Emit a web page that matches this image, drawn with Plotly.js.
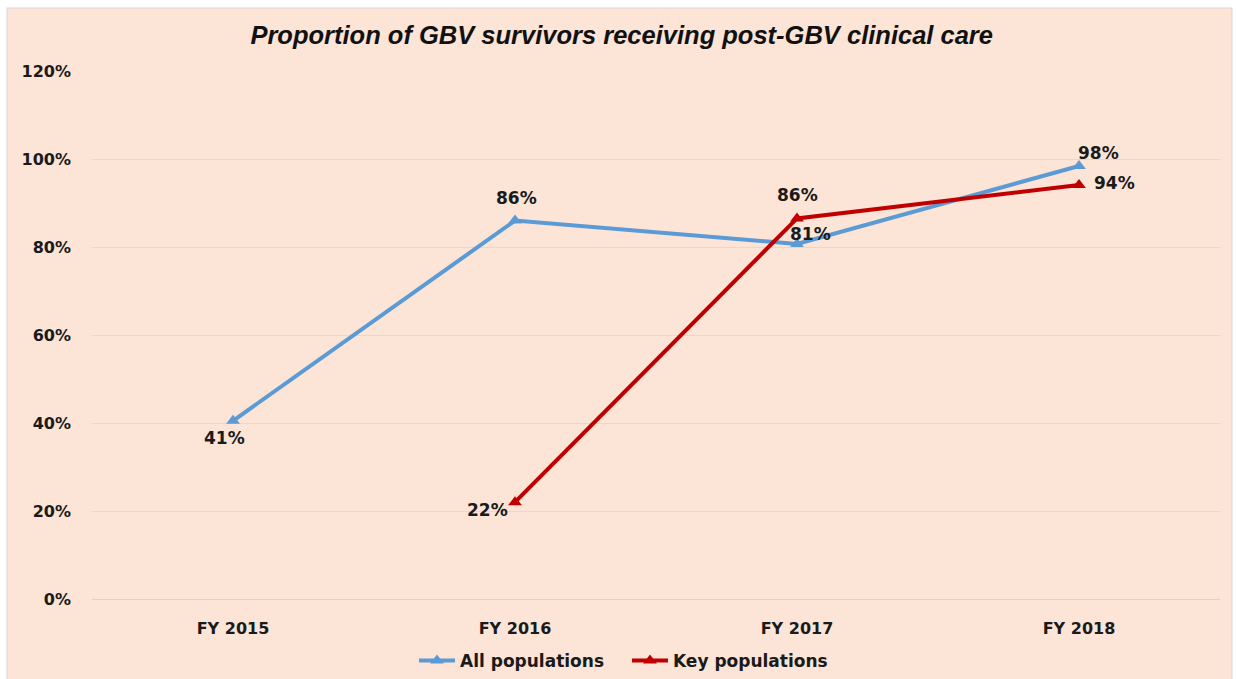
<!DOCTYPE html>
<html>
<head>
<meta charset="utf-8">
<script src="https://cdn.plot.ly/plotly-3.0.1.min.js"></script>
<style>html,body{margin:0;padding:0;background:#fff;}#chart{width:1236px;height:679px;}</style>
</head>
<body>
<div id="chart"></div>
<script>
var categories = ["FY 2015", "FY 2016", "FY 2017", "FY 2018"];
var allPopX = ["FY 2015", "FY 2016", "FY 2017", "FY 2018"];
var allPopValues = [0.405, 0.86, 0.807, 0.984];
var allPopLabels = ["41%", "86%", "81%", "98%"];
var keyPopX = ["FY 2016", "FY 2017", "FY 2018"];
var keyPopValues = [0.22, 0.865, 0.941];
var keyPopLabels = ["22%", "86%", "94%"];
var yTickVals = [0, 0.2, 0.4, 0.6, 0.8, 1.0, 1.2];
var yTickText = ["0%", "20%", "40%", "60%", "80%", "100%", "120%"];

var blue = "#5B9BD5", red = "#C00000";
var fontFam = "DejaVu Sans, Verdana, sans-serif";

var traces = [
  {x: allPopX, y: allPopValues, name: "All populations", type: "scatter", mode: "lines+markers",
   line: {color: blue, width: 4}, marker: {symbol: "triangle-up", size: 12, color: blue}},
  {x: keyPopX, y: keyPopValues, name: "Key populations", type: "scatter", mode: "lines+markers",
   line: {color: red, width: 4}, marker: {symbol: "triangle-up", size: 12, color: red}}
];

var allOffsets = [[-9, -17], [1, 23], [13, 10], [19, 13]];
var keyOffsets = [[-28, -8], [0, 23], [35, 2]];
var annotations = [];
allPopX.forEach(function (c, i) {
  annotations.push({x: c, y: allPopValues[i], xref: "x", yref: "y", text: allPopLabels[i], showarrow: false,
    xshift: allOffsets[i][0], yshift: allOffsets[i][1], font: {family: fontFam, size: 17, color: "#1a1a1a", weight: "bold"}});
});
keyPopX.forEach(function (c, i) {
  annotations.push({x: c, y: keyPopValues[i], xref: "x", yref: "y", text: keyPopLabels[i], showarrow: false,
    xshift: keyOffsets[i][0], yshift: keyOffsets[i][1], font: {family: fontFam, size: 17, color: "#1a1a1a", weight: "bold"}});
});

var layout = {
  width: 1236, height: 679,
  margin: {l: 92, r: 16, t: 71, b: 80, pad: 0, autoexpand: false},
  paper_bgcolor: "#ffffff",
  plot_bgcolor: "rgba(0,0,0,0)",
  showlegend: true,
  title: {text: "<b><i>Proportion of GBV survivors receiving post-GBV clinical care</i></b>",
    x: 0.503, xref: "container", xanchor: "center", y: 1 - 35 / 679, yref: "container", yanchor: "middle",
    font: {family: "Liberation Sans Narrow, Liberation Sans, Arial, sans-serif", size: 25.5, color: "#111"}},
  xaxis: {type: "category", categoryorder: "array", categoryarray: categories, range: [-0.5, 3.5],
    showgrid: false, zeroline: false, showline: false, ticks: "", ticklabelstandoff: 18, automargin: false,
    tickfont: {family: fontFam, size: 16, color: "#1a1a1a", weight: "bold"}, fixedrange: true},
  yaxis: {range: [0, 1.2], tickvals: yTickVals, ticktext: yTickText, showgrid: true, gridcolor: "#E8D8CD", gridwidth: 1,
    zeroline: true, zerolinecolor: "#E0D0C5", zerolinewidth: 1, showline: false, ticks: "", ticklabelstandoff: 20, automargin: false,
    tickfont: {family: fontFam, size: 16, color: "#1a1a1a", weight: "bold"}, fixedrange: true},
  legend: {orientation: "h", x: (627 - 92) / 1128, xanchor: "center", y: (599 - 661) / 528, yanchor: "middle",
    bgcolor: "rgba(0,0,0,0)", font: {family: fontFam, size: 17, color: "#1a1a1a", weight: "bold"},
    itemwidth: 36, entrywidth: 162, tracegroupgap: 0},
  shapes: [
    {type: "rect", xref: "paper", yref: "paper", layer: "below",
     x0: (7 - 92) / 1128, x1: (1232 - 92) / 1128, y0: (599 - 680) / 528, y1: (599 - 8) / 528,
     fillcolor: "#FCE4D6", line: {color: "#D9D3DF", width: 1}}
  ],
  annotations: annotations
};

Plotly.newPlot("chart", traces, layout, {displayModeBar: false, staticPlot: true});
</script>
</body>
</html>
